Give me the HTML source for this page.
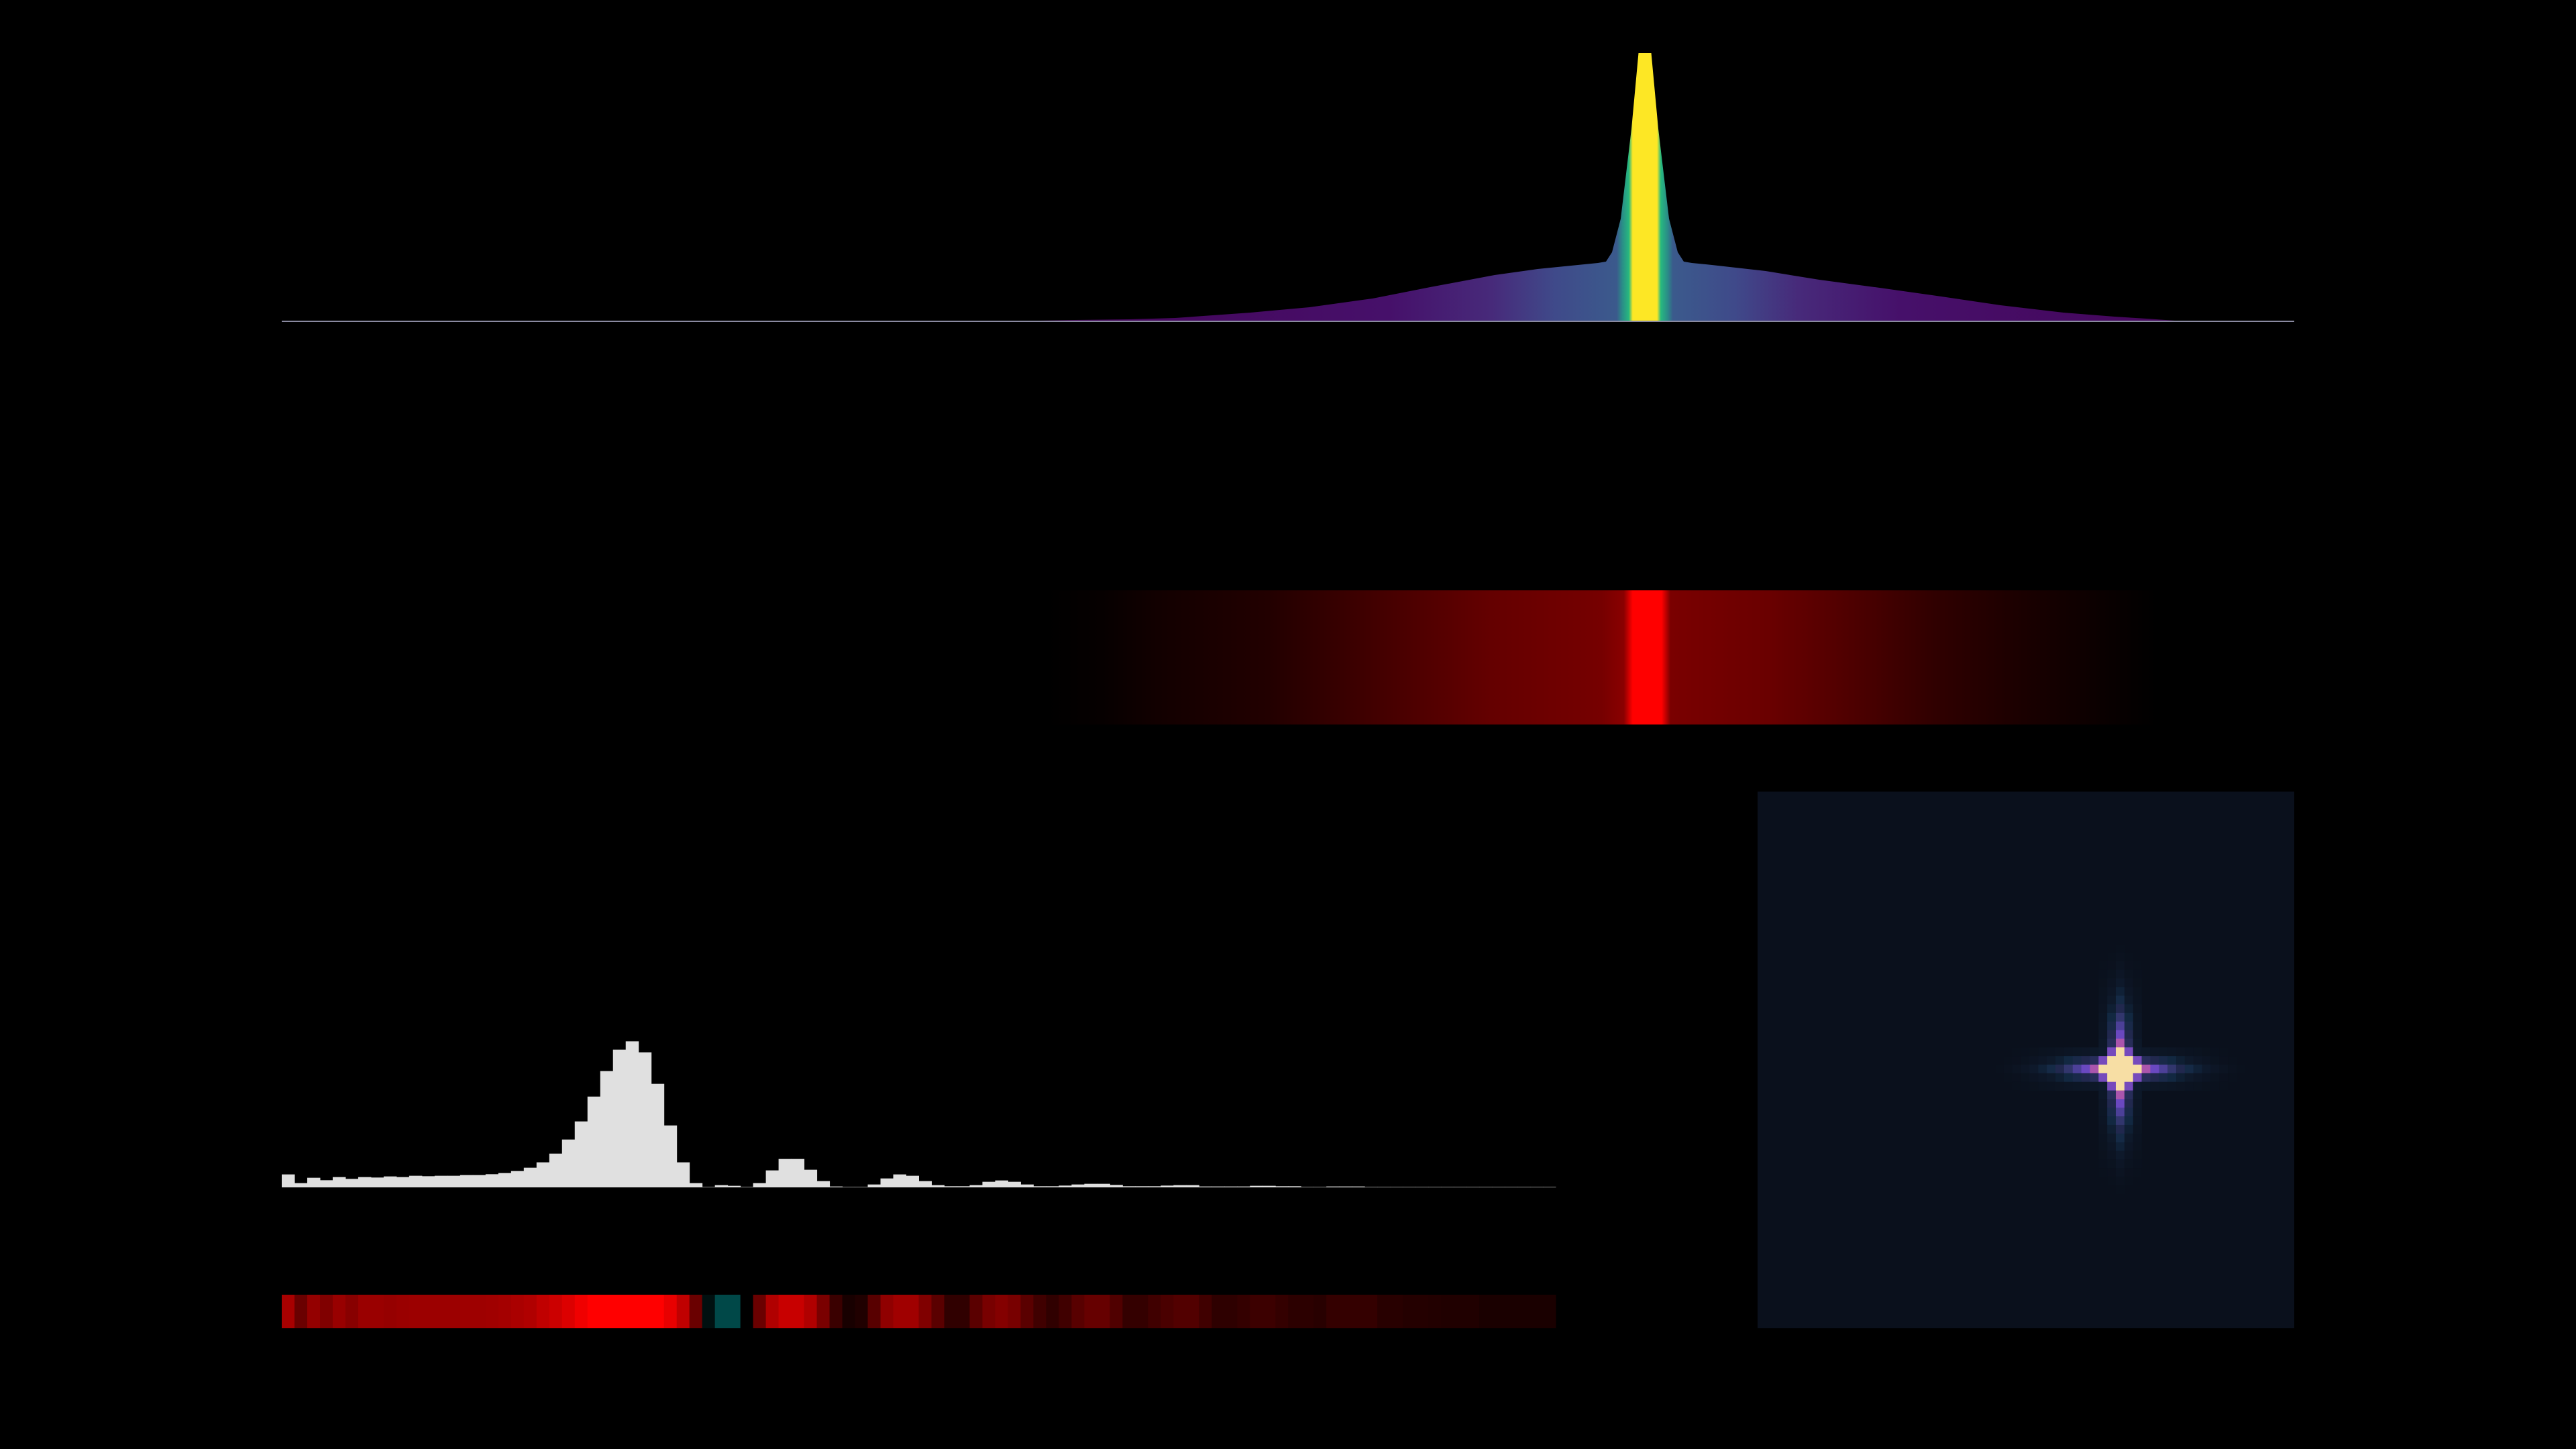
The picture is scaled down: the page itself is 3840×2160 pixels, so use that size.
<!DOCTYPE html>
<html><head><meta charset="utf-8"><title>Spectral profile dashboard</title>
<style>
html,body{margin:0;padding:0;background:#000;}
svg{display:block;}
</style></head>
<body>
<svg id="root" width="3840" height="2160" viewBox="0 0 3840 2160" xmlns="http://www.w3.org/2000/svg">
<rect x="0" y="0" width="3840" height="2160" fill="#000"/>
<defs>
<linearGradient id="viridisGrad" gradientUnits="userSpaceOnUse" x1="1500" y1="0" x2="3404" y2="0">
<stop offset="0" stop-color="#440154"/>
<stop offset="0.3" stop-color="#46106a"/>
<stop offset="0.38" stop-color="#472a7a"/>
<stop offset="0.43" stop-color="#3f4a8a"/>
<stop offset="0.478" stop-color="#3b5a8c"/>
<stop offset="0.482" stop-color="#2a8a88"/>
<stop offset="0.4875" stop-color="#27b97f"/>
<stop offset="0.4905" stop-color="#fde725"/>
<stop offset="0.5095" stop-color="#fde725"/>
<stop offset="0.5125" stop-color="#27b97f"/>
<stop offset="0.518" stop-color="#2a8a88"/>
<stop offset="0.522" stop-color="#3b5a8c"/>
<stop offset="0.57" stop-color="#3f4a8a"/>
<stop offset="0.62" stop-color="#472a7a"/>
<stop offset="0.7" stop-color="#46106a"/>
<stop offset="1" stop-color="#440154"/>
</linearGradient>
<linearGradient id="redGrad" gradientUnits="userSpaceOnUse" x1="1560" y1="0" x2="3215" y2="0">
<stop offset="0" stop-color="#000000"/>
<stop offset="0.05" stop-color="#060000"/>
<stop offset="0.1" stop-color="#120000"/>
<stop offset="0.2" stop-color="#220000"/>
<stop offset="0.32" stop-color="#4a0000"/>
<stop offset="0.4" stop-color="#640000"/>
<stop offset="0.5" stop-color="#760000"/>
<stop offset="0.52" stop-color="#8a0000"/>
<stop offset="0.528" stop-color="#ff0000"/>
<stop offset="0.554" stop-color="#ff0000"/>
<stop offset="0.562" stop-color="#7a0000"/>
<stop offset="0.65" stop-color="#6a0000"/>
<stop offset="0.72" stop-color="#500000"/>
<stop offset="0.8" stop-color="#300000"/>
<stop offset="0.88" stop-color="#1a0000"/>
<stop offset="0.96" stop-color="#080000"/>
<stop offset="1" stop-color="#000000"/>
</linearGradient>
<clipPath id="hmClip"><rect x="2620" y="1180" width="800" height="800"/></clipPath>
</defs>
<g id="topChart"></g>
<rect x="1560" y="880" width="1655" height="200" fill="url(#redGrad)"/>
<g id="hist"></g>
<g id="strip"></g>
<g id="heat"></g>
</svg>
<script>
// ---- profile chart data ----
const profileOffsets = [-903,-850,-769,-700,-588,-500,-406,-320,-224,-160,-100,-70,-58,-49,-36,-20,-9.5,9.5,20,36,49,58,70,100,180,260,350,442,530,624,700,748,790];
const profileHeights = [0,1,2,4,12,20,33,50,68,77,83,86,88,102,152,286,399,399,286,152,102,88,86,83,74,61,49,36,23,12,6,3,0];
// ---- histogram data ----
const histCounts = [58,19,43,32,46,38,46,44,49,46,52,50,52,52,55,55,59,64,73,88,112,151,214,295,406,520,616,653,604,463,277,112,19,2,10,7,2,19,76,127,127,79,28,4,2,2,13,40,58,52,28,10,5,5,10,25,31,25,13,5,5,8,13,16,16,11,5,5,5,8,10,10,4,4,4,4,7,7,5,5,2,2,4,4,4,2,2,2,2,2,2,2,2,2,2,2,2,2,2,2];
// strip levels: positive = red level, negative = teal level, 0 = black
const stripLevels = [168,106,148,128,152,136,154,154,150,154,156,156,156,156,158,158,160,164,170,176,192,204,220,240,255,255,255,255,255,255,232,192,106,-16,-72,-72,0,106,176,200,200,176,122,58,24,32,88,144,160,160,128,90,48,48,90,120,132,120,90,64,48,64,88,102,102,80,52,52,64,74,82,82,64,46,46,52,60,60,52,44,44,40,52,52,52,52,40,40,36,36,34,32,32,32,26,26,26,26,26,26];
// ---- heatmap data ----
const armCenter = [1,1,1,0.72,0.55,0.45,0.34,0.24,0.16,0.11,0.075,0.05,0.03,0.015,0.005,0];
const armSide = [1,1,0.58,0.28,0.24,0.19,0.14,0.1,0.07,0.05,0.035,0.02,0.01,0.005,0,0];
const armSide2 = [0,0,0.08,0.06,0.05,0.045,0.04,0.03,0.025,0.02,0.012,0.008,0.004,0,0,0];
const heatStops = [0,0.08,0.15,0.25,0.35,0.45,0.55,0.68,0.8,0.9,1];
const heatColors = ['#0a101c','#0e1a2c','#132a45','#22284f','#343870','#4c4098','#6a48c0','#a050b0','#c060a8','#f7dea4','#f7dea4'];

const NS = 'http://www.w3.org/2000/svg';
function mk(tag, attrs, parent){ const e=document.createElementNS(NS,tag); for(const k in attrs) e.setAttribute(k,attrs[k]); parent.appendChild(e); return e; }

// profile axes
const pX = d => 2452 + d;
const pY = h => 478 - h;
const topG = document.getElementById('topChart');
let dPath = 'M' + pX(profileOffsets[0]) + ' ' + pY(0);
for (let i=0;i<profileOffsets.length;i++) dPath += ' L' + pX(profileOffsets[i]) + ' ' + pY(profileHeights[i]);
dPath += ' L' + pX(profileOffsets[profileOffsets.length-1]) + ' ' + pY(0) + ' Z';
const area = mk('path',{d:dPath,fill:'url(#viridisGrad)'},topG);


const axisLine = mk('line',{x1:420,y1:479,x2:3420,y2:479,stroke:'#8a8aa0','stroke-width':2},topG);



// histogram axes
const hX0 = 420, hBW = 18.99, hBase = 1770;
const hX = i => hX0 + i*hBW;
const hH = v => v/3;
const histG = document.getElementById('hist');
histCounts.forEach((v,i)=>{
  const r = mk('rect',{x:hX(i),y:hBase-hH(v),width:hBW+0.5,height:hH(v),fill:'#e0e0e0'},histG);
  
  
});
const stripG = document.getElementById('strip');
stripLevels.forEach((v,i)=>{
  let c;
  if (v>0) c = 'rgb('+v+',0,0)'; else if (v<0) c = 'rgb(0,'+(-v)+','+(-v)+')'; else c = '#000';
  const r = mk('rect',{x:hX(i),y:1930,width:hBW+0.5,height:50,fill:c},stripG);
  
  
});

// heatmap
function hexToRgb(h){return [parseInt(h.substr(1,2),16),parseInt(h.substr(3,2),16),parseInt(h.substr(5,2),16)];}
function cmap(v){
  v=Math.max(0,Math.min(1,v));
  for(let i=1;i<heatStops.length;i++){
    if(v<=heatStops[i]){
      const t=(v-heatStops[i-1])/(heatStops[i]-heatStops[i-1]);
      const a=hexToRgb(heatColors[i-1]), b=hexToRgb(heatColors[i]);
      return 'rgb('+a.map((x,j)=>Math.round(x+(b[j]-x)*t)).join(',')+')';
    }
  }
  return heatColors[heatColors.length-1];
}
const heatG = document.getElementById('heat');
const hmBg = mk('rect',{x:2620,y:1180,width:800,height:800,fill:heatColors[0]},heatG);


const cellsG = mk('g',{'clip-path':'url(#hmClip)'},heatG);
const cs = 12.85, cx0 = 3154, cy0 = 1587;
const N = armCenter.length;
for(let dy=-(N-1);dy<=N-1;dy++){
  for(let dx=-(N-1);dx<=N-1;dx++){
    const a=Math.abs(dx), b=Math.abs(dy), m=Math.min(a,b), M=Math.max(a,b);
    let v=0;
    if(m===0) v=armCenter[M]; else if(m===1) v=armSide[M]; else if(m===2) v=armSide2[M];
    if(v<=0) continue;
    const r = mk('rect',{x:cx0+dx*cs,y:cy0+dy*cs,width:cs+0.4,height:cs+0.4,fill:cmap(v)},cellsG);
    
    
  }
}
</script>
</body></html>
